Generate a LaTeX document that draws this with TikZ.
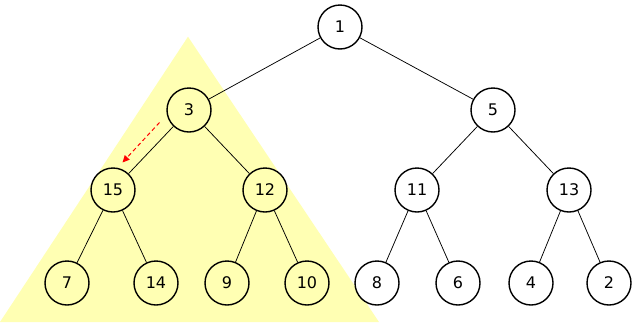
\documentclass[tikz,border=0pt]{standalone}
\usepackage{fontspec}
\setmainfont{DejaVu Sans}
\usetikzlibrary{arrows.meta}
\begin{document}
\begin{tikzpicture}[x=1pt,y=-1pt,
  nd/.style={circle,draw=black,line width=1.4pt,fill=white,minimum size=44pt,inner sep=0pt,font=\fontsize{16}{18}\selectfont},
  hl/.style={nd,fill={rgb,255:red,255;green,255;blue,179}},
  edge/.style={draw=black,line width=0.75pt}]
\useasboundingbox (0,0) rectangle (643,322);
\fill[fill={rgb,255:red,255;green,255;blue,179}] (188,36.7) -- (379,322) -- (0,322) -- cycle;
\node[nd] (n1) at (340,27) {1};
\node[hl] (n3) at (189,110) {3};
\node[nd] (n5) at (493,110) {5};
\node[hl] (n15) at (113,190) {15};
\node[hl] (n12) at (265,190) {12};
\node[nd] (n11) at (417,190) {11};
\node[nd] (n13) at (569,190) {13};
\node[hl] (n7) at (67,283) {7};
\node[hl] (n14) at (156,283) {14};
\node[hl] (n9) at (227,283) {9};
\node[hl] (n10) at (307,283) {10};
\node[nd] (n8) at (377,283) {8};
\node[nd] (n6) at (458,283) {6};
\node[nd] (n4) at (531,283) {4};
\node[nd] (n2) at (609,283) {2};
\foreach \a/\b in {n1/n3,n1/n5,n3/n15,n3/n12,n5/n11,n5/n13,n15/n7,n15/n14,n12/n9,n12/n10,n11/n8,n11/n6,n13/n4,n13/n2}
  \draw[edge] (\a) -- (\b);
\coordinate (as) at (159.5,122.5);
\coordinate (ae) at (122.5,162.5);
\draw[red,line width=1pt,dash pattern=on 4pt off 3pt,-{Triangle[length=7pt,width=6.5pt]}] (as) -- (ae);
\end{tikzpicture}
\end{document}
